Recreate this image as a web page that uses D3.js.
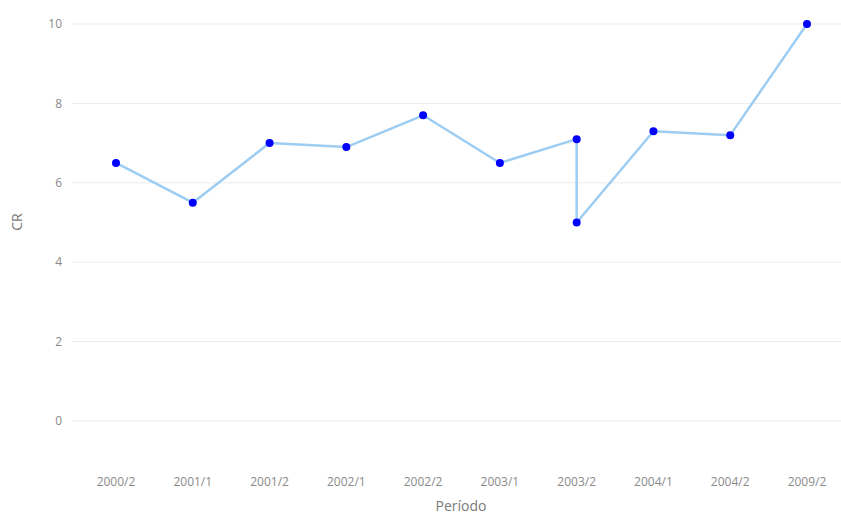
<!DOCTYPE html>
<html><head><meta charset="utf-8">
<script src="https://cdn.jsdelivr.net/npm/d3@7"></script>
<style>body{margin:0;background:#fff;} text{font-family:"Open Sans",sans-serif;}</style>
</head><body>
<svg id="c" width="841" height="516"></svg>
<script>
const categories = ["2000/2","2001/1","2001/2","2002/1","2002/2","2003/1","2003/2","2003/2","2004/1","2004/2","2009/2"];
const values = [6.5,5.5,7.0,6.9,7.7,6.5,7.1,5.0,7.3,7.2,10.0];
const tickCategories = ["2000/2","2001/1","2001/2","2002/1","2002/2","2003/1","2003/2","2004/1","2004/2","2009/2"];
const yTicks = [0,2,4,6,8,10];

const svg = d3.select("#c");
const plotLeft = 72, plotRight = 841;
const x = d3.scalePoint().domain(tickCategories).range([116, 807]);
const y = d3.scaleLinear().domain([0, 10]).range([421, 24]);

// gridlines
svg.append("g").selectAll("line").data(yTicks).join("line")
  .attr("x1", plotLeft).attr("x2", plotRight)
  .attr("y1", d => y(d)).attr("y2", d => y(d))
  .attr("stroke", "#ebebeb").attr("stroke-width", 1);

// y tick labels
svg.append("g").selectAll("text").data(yTicks).join("text")
  .attr("x", 62).attr("y", d => y(d)).attr("dy", "0.35em")
  .attr("text-anchor", "end").attr("font-size", 12).attr("fill", "#8a8a8a")
  .text(d => d);

// x tick labels
svg.append("g").selectAll("text").data(tickCategories).join("text")
  .attr("x", d => x(d)).attr("y", 482).attr("dy", "0.35em")
  .attr("text-anchor", "middle").attr("font-size", 12).attr("fill", "#8a8a8a")
  .text(d => d);

// axis titles
svg.append("text").attr("x", 461).attr("y", 511).attr("text-anchor", "middle")
  .attr("font-size", 14).attr("fill", "#7a7a7a").text("Período");
svg.append("text").attr("transform", "translate(22,222) rotate(-90)")
  .attr("text-anchor", "middle").attr("font-size", 14).attr("fill", "#7a7a7a").text("CR");

const pts = categories.map((c, i) => ({c, v: values[i]}));
const line = d3.line().x(d => x(d.c)).y(d => y(d.v));
svg.append("path").datum(pts).attr("d", line)
  .attr("fill", "none").attr("stroke", "#9dcdf2").attr("stroke-width", 2.5)
  .attr("stroke-linejoin", "round");

svg.append("g").selectAll("circle").data(pts).join("circle")
  .attr("cx", d => x(d.c)).attr("cy", d => y(d.v)).attr("r", 4)
  .attr("fill", "#0000ff");
</script>
</body></html>
